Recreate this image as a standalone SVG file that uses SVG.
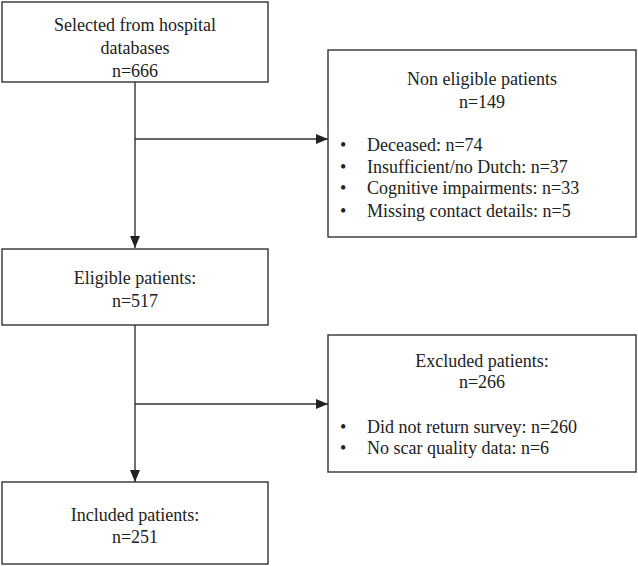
<svg xmlns="http://www.w3.org/2000/svg" width="638" height="566" viewBox="0 0 638 566">
<style>
.box{fill:#fff;stroke:#333;stroke-width:1.4}
.t{font-family:"Liberation Serif","Times New Roman",serif;font-size:18px;fill:#222}
.c{text-anchor:middle}
.ln{stroke:#333;stroke-width:1.4;fill:none}
</style>
<defs>
<marker id="ah" markerWidth="12" markerHeight="10" refX="12" refY="5" orient="auto" markerUnits="userSpaceOnUse">
<path d="M0,0 L12,5 L0,10 Z" fill="#222"/>
</marker>
</defs>
<g id="connectors">
<line class="ln" x1="135" y1="82" x2="135" y2="248" marker-end="url(#ah)"/>
<line class="ln" x1="135" y1="139" x2="328" y2="139" marker-end="url(#ah)"/>
<line class="ln" x1="135" y1="325" x2="135" y2="482" marker-end="url(#ah)"/>
<line class="ln" x1="135" y1="404" x2="328" y2="404" marker-end="url(#ah)"/>
</g>
<g id="selected">
<rect class="box" x="2" y="2" width="266" height="80"/>
<text class="t c" x="135" y="31">Selected from hospital</text>
<text class="t c" x="135" y="54">databases</text>
<text class="t c" x="135" y="77">n=666</text>
</g>
<g id="noneligible">
<rect class="box" x="328" y="50" width="308" height="187"/>
<text class="t c" x="482" y="85">Non eligible patients</text>
<text class="t c" x="482" y="108">n=149</text>
<text class="t" x="340" y="151">•</text>
<text class="t" x="367" y="151">Deceased: n=74</text>
<text class="t" x="340" y="173">•</text>
<text class="t" x="367" y="173">Insufficient/no Dutch: n=37</text>
<text class="t" x="340" y="194">•</text>
<text class="t" x="367" y="194">Cognitive impairments: n=33</text>
<text class="t" x="340" y="217">•</text>
<text class="t" x="367" y="217">Missing contact details: n=5</text>
</g>
<g id="eligible">
<rect class="box" x="2" y="249" width="266" height="76"/>
<text class="t c" x="135" y="284">Eligible patients:</text>
<text class="t c" x="135" y="307">n=517</text>
</g>
<g id="excluded">
<rect class="box" x="328" y="335" width="308" height="137"/>
<text class="t c" x="482" y="367">Excluded patients:</text>
<text class="t c" x="482" y="388">n=266</text>
<text class="t" x="340" y="433">•</text>
<text class="t" x="367" y="433">Did not return survey: n=260</text>
<text class="t" x="340" y="454">•</text>
<text class="t" x="367" y="454">No scar quality data: n=6</text>
</g>
<g id="included">
<rect class="box" x="2" y="482" width="266" height="82"/>
<text class="t c" x="135" y="521">Included patients:</text>
<text class="t c" x="135" y="543">n=251</text>
</g>
</svg>
